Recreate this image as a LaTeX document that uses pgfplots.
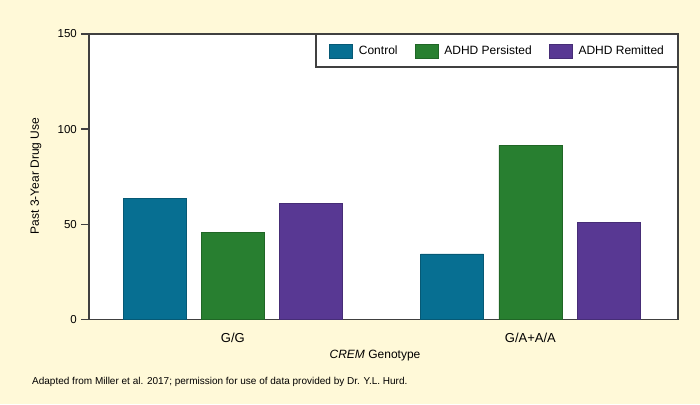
\documentclass[border=0pt]{standalone}
\usepackage{fontspec}
\setmainfont{Liberation Sans}
\usepackage{pgfplots}
\pgfplotsset{compat=1.18}
\definecolor{bg}{RGB}{255,249,216}
\definecolor{cctrl}{RGB}{7,111,146}
\definecolor{cpers}{RGB}{40,127,48}
\definecolor{crem}{RGB}{88,56,147}
\definecolor{axgray}{RGB}{64,64,64}
\begin{document}
\begin{tikzpicture}
\fill[bg] (0,0) rectangle (700pt,404pt);
\begin{axis}[
  at={(89pt,84.7pt)}, anchor=south west,
  scale only axis, width=589pt, height=285.3pt,
  axis background/.style={fill=white},
  axis line style={axgray, line width=1.2pt},
  xmin=-0.48353, xmax=1.4963, ymin=0, ymax=150,
  ytick={0,50,100,150},
  xtick={0,1}, xticklabels={G/G,G/A+A/A},
  xtick style={draw=none},
  ytick style={axgray, line width=1.2pt},
  tick pos=left,
  tick align=outside, major tick length=8pt,
  yticklabel style={font=\fontsize{11.5}{13}\selectfont, inner sep=0pt, xshift=-4pt},
  xticklabel style={font=\fontsize{13}{15}\selectfont, inner sep=0pt, yshift=-6pt},
  /pgf/number format/assume math mode=true,
  ybar, bar width=63pt,
  legend columns=3,
  legend style={at={(1,1)}, anchor=north east, draw=axgray, line width=1.2pt, fill=white,
    inner xsep=13.5pt, inner ysep=9pt, font=\fontsize{12}{14}\selectfont,
    nodes={inner sep=0pt},
    /tikz/every odd column/.append style={column sep=6pt},
    /tikz/every even column/.append style={column sep=17.3pt}},
  legend image code/.code={\fill[#1] (0pt,-7pt) rectangle (23pt,7pt);},
  clip=false,
]
\addplot[fill=cctrl, draw=cctrl!80!black, line width=0.5pt, bar shift=-78.2pt]
  coordinates {(0,63.5) (1,34.4)};
\addplot[fill=cpers, draw=cpers!80!black, line width=0.5pt, bar shift=0pt]
  coordinates {(0,45.6) (1,91.4)};
\addplot[fill=crem, draw=crem!80!black, line width=0.5pt, bar shift=78.2pt]
  coordinates {(0,60.8) (1,51.1)};
\legend{Control, ADHD Persisted, ADHD Remitted}
\end{axis}
\node[rotate=90, anchor=center, inner sep=0pt, font=\fontsize{12}{14}\selectfont] at (36pt,228pt) {Past 3-Year Drug Use};
\node[anchor=base, inner sep=0pt, font=\fontsize{12}{14}\selectfont] at (375pt,45.7pt) {\textit{CREM} Genotype};
\node[anchor=base west, inner sep=0pt, font=\fontsize{10}{12}\selectfont] at (32pt,20pt) {Adapted from Miller et al. 2017; permission for use of data provided by Dr. Y.L. Hurd.};
\end{tikzpicture}
\end{document}
